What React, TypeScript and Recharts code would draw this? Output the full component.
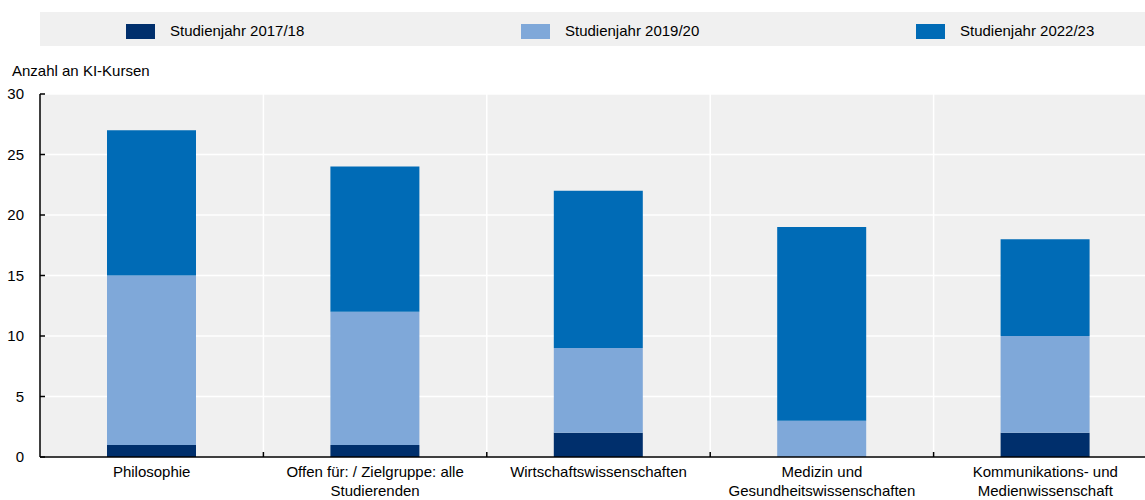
import { BarChart, Bar, XAxis, YAxis, CartesianGrid } from "recharts";

// Kategorien (Zeilen umbrochen wie in der Vorlage)
const CATEGORY_LINES = [
  ["Philosophie"],
  ["Offen für: / Zielgruppe: alle", "Studierenden"],
  ["Wirtschaftswissenschaften"],
  ["Medizin und", "Gesundheitswissenschaften"],
  ["Kommunikations- und", "Medienwissenschaft"],
];

const Y_2017 = [1, 1, 2, 0, 2];
const Y_2019 = [14, 11, 7, 3, 8];
const Y_2022 = [12, 12, 13, 16, 8];

const Y_TICKS = [0, 5, 10, 15, 20, 25, 30];

const SERIES = [
  { key: "y2017", label: "Studienjahr 2017/18", color: "#002F6C" },
  { key: "y2019", label: "Studienjahr 2019/20", color: "#7FA8D9" },
  { key: "y2022", label: "Studienjahr 2022/23", color: "#006BB6" },
];

const FONT = '"Liberation Sans", Arial, sans-serif';
const CHART_W = 1157;
const CHART_H = 500;
const LEFT = 40;
const PLOT_W = CHART_W - LEFT;

const data = CATEGORY_LINES.map((lines, i) => ({
  name: lines.join(" "),
  lines,
  y2017: Y_2017[i],
  y2019: Y_2019[i],
  y2022: Y_2022[i],
}));

function CategoryTick(props: any) {
  const { x, y, index } = props;
  const lines = CATEGORY_LINES[index] || [];
  const band = PLOT_W / CATEGORY_LINES.length;
  return (
    <g>
      {index > 0 && (
        <line x1={x - band / 2} x2={x - band / 2} y1={y} y2={y - 5} stroke="#000" strokeWidth={1.5} />
      )}
      <text x={x} y={y + 20} textAnchor="middle" fontSize={15} fontFamily={FONT} fill="#000">
        {lines.map((l: string, i: number) => (
          <tspan key={i} x={x} dy={i === 0 ? 0 : 19}>
            {l}
          </tspan>
        ))}
      </text>
    </g>
  );
}

export default function App() {
  return (
    <div
      style={{
        position: "absolute",
        left: 0,
        top: 0,
        width: 1145,
        height: 500,
        overflow: "hidden",
        background: "#fff",
        fontFamily: FONT,
      }}
    >
      {/* Legende */}
      <div
        style={{
          position: "absolute",
          left: 40,
          top: 12,
          width: PLOT_W,
          height: 34,
          background: "#f0f0f0",
        }}
      >
        {SERIES.map((s, i) => (
          <div key={s.key} style={{ position: "absolute", left: 86 + i * 395, top: 0, height: 34 }}>
            <div style={{ position: "absolute", left: 0, top: 12, width: 29, height: 15, background: s.color }} />
            <div
              style={{
                position: "absolute",
                left: 44,
                top: 10,
                fontSize: 15,
                lineHeight: "18px",
                whiteSpace: "nowrap",
                color: "#000",
              }}
            >
              {s.label}
            </div>
          </div>
        ))}
      </div>

      <div style={{ position: "absolute", left: 12, top: 62, fontSize: 15, lineHeight: "18px", color: "#000" }}>
        Anzahl an KI-Kursen
      </div>

      <div style={{ position: "absolute", left: 0, top: 0 }}>
        <BarChart
          width={CHART_W}
          height={CHART_H}
          data={data}
          margin={{ top: 94, right: 0, left: 0, bottom: 0 }}
          barSize={89}
        >
          <CartesianGrid
            fill="#f0f0f0"
            stroke="#ffffff"
            strokeWidth={1.5}
            verticalCoordinatesGenerator={({ offset }: any) =>
              CATEGORY_LINES.slice(1).map((_, i) => offset.left + (offset.width * (i + 1)) / CATEGORY_LINES.length)
            }
          />
          <XAxis
            dataKey="name"
            height={43}
            interval={0}
            tickLine={false}
            tickSize={0}
            tickMargin={0}
            axisLine={{ stroke: "#000", strokeWidth: 1.5 }}
            tick={<CategoryTick />}
          />
          <YAxis
            width={LEFT}
            domain={[0, 30]}
            ticks={Y_TICKS}
            interval={0}
            tickSize={-5}
            tickMargin={21}
            axisLine={{ stroke: "#000", strokeWidth: 1.5 }}
            tickLine={{ stroke: "#000", strokeWidth: 1.5 }}
            tick={{ fontSize: 15, fontFamily: FONT, fill: "#000" }}
          />
          {SERIES.map((s) => (
            <Bar key={s.key} dataKey={s.key} stackId="a" fill={s.color} isAnimationActive={false} />
          ))}
        </BarChart>
      </div>
    </div>
  );
}
